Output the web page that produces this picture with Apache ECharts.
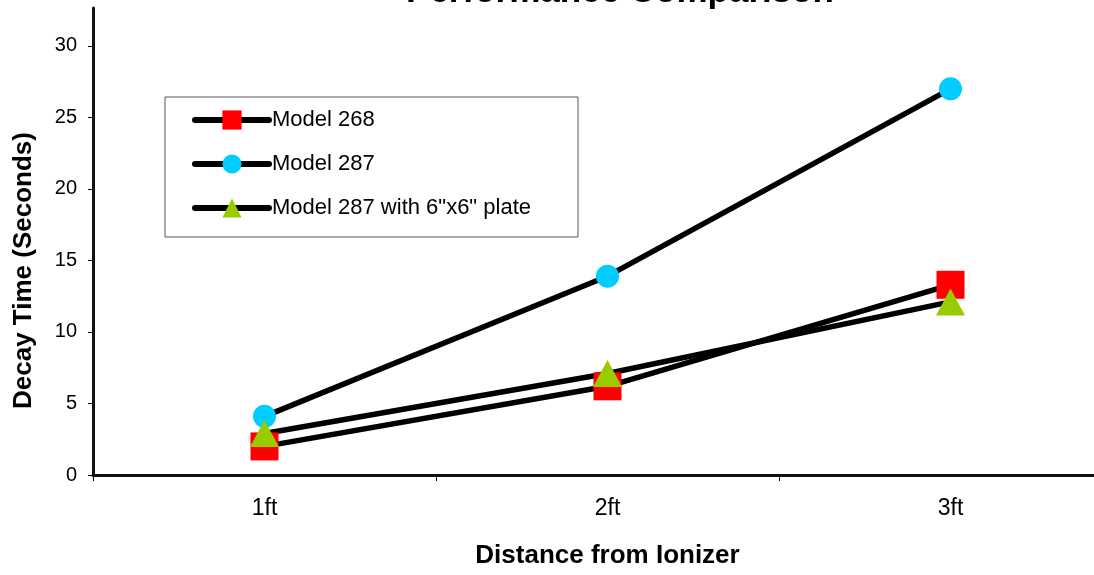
<!DOCTYPE html>
<html>
<head>
    <meta charset="utf-8">
    <title>Performance Comparison</title>
    <script src="https://cdn.jsdelivr.net/npm/echarts@6/dist/echarts.min.js"></script>
    <style>
        body { margin: 0; background: #fff; }
    </style>
</head>
<body>
    <div id="chart" style="width: 1094px;height:575px;"></div>
    <script type="text/javascript">
        // data
        var distances = ['1ft', '2ft', '3ft'];
        var model268 = [2.0, 6.2, 13.3];
        var model287 = [4.1, 13.9, 27.0];
        var model287Plate = [2.9, 7.1, 12.1];
        var yTicks = [0, 5, 10, 15, 20, 25, 30];

        var font = 'Liberation Sans, Arial, sans-serif';

        var chart = echarts.init(document.getElementById('chart'));

        function lineSeries(name, data, symbol, size, color) {
            return {
                name: name,
                type: 'line',
                data: data,
                symbol: symbol,
                symbolSize: size,
                showAllSymbol: true,
                itemStyle: { color: color, borderWidth: 0, opacity: 1 },
                lineStyle: { color: '#000', width: 5.5, cap: 'round' },
                emphasis: { disabled: true },
                animation: false
            };
        }

        var option = {
            animation: false,
            title: {
                text: 'Performance Comparison',
                left: 615,
                top: -30,
                textAlign: 'center',
                textStyle: { fontFamily: font, fontSize: 35, fontWeight: 'bold', color: '#000' }
            },
            legend: {
                orient: 'vertical',
                left: 165,
                top: 97,
                padding: [12, 47, 18, 27],
                itemWidth: 74,
                itemHeight: 24,
                itemGap: 20,
                borderColor: '#555',
                borderWidth: 1,
                backgroundColor: '#fff',
                lineStyle: { color: '#000', width: 6, cap: 'round' },
                textStyle: { fontFamily: font, fontSize: 22, color: '#000', padding: [0, 0, 0, -2] },
                data: ['Model 268', 'Model 287', 'Model 287 with 6"x6" plate']
            },
            grid: {
                left: 93,
                width: 1029,
                top: 8,
                bottom: 100,
                containLabel: false,
                outerBoundsMode: 'none'
            },
            xAxis: {
                type: 'category',
                data: distances,
                boundaryGap: true,
                name: 'Distance from Ionizer',
                nameLocation: 'middle',
                nameGap: 68,
                nameTextStyle: { fontFamily: font, fontSize: 26, fontWeight: 'bold', color: '#000' },
                axisLine: { lineStyle: { color: '#111', width: 3 } },
                axisTick: { show: true, alignWithLabel: false, length: 6, lineStyle: { color: '#000', width: 1 } },
                axisLabel: { fontFamily: font, fontSize: 23, color: '#000', margin: 22 },
                splitLine: { show: false }
            },
            yAxis: {
                type: 'value',
                min: 0,
                max: 32.65,
                interval: 5,
                name: 'Decay Time (Seconds)',
                nameLocation: 'middle',
                nameGap: 56,
                nameTextStyle: { fontFamily: font, fontSize: 26, fontWeight: 'bold', color: '#000', padding: [0, 58, 0, 0] },
                axisLine: { show: true, lineStyle: { color: '#111', width: 3 } },
                axisTick: { show: true, length: 5, lineStyle: { color: '#000', width: 1 } },
                axisLabel: {
                    fontFamily: font, fontSize: 20, color: '#000', margin: 16,
                    showMaxLabel: false,
                    formatter: function (v) { return yTicks.indexOf(v) >= 0 ? String(v) : ''; }
                },
                splitLine: { show: false }
            },
            series: [
                lineSeries('Model 268', model268, 'rect', 28, '#ff0000'),
                lineSeries('Model 287', model287, 'circle', 23, '#00ccff'),
                lineSeries('Model 287 with 6"x6" plate', model287Plate, 'triangle', [29, 27], '#99cc00')
            ]
        };
        // row spacing of the legend box
        option.legend.itemGap = 22;
        chart.setOption(option);
    </script>
</body>
</html>
